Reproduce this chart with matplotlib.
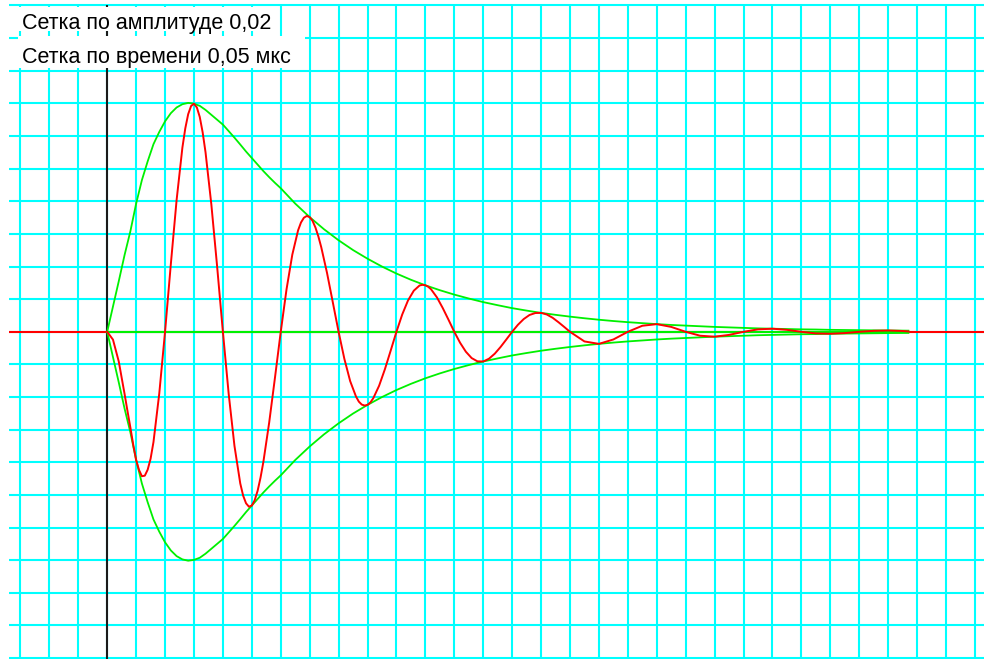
import numpy as np
import matplotlib
matplotlib.use("Agg")
import matplotlib.pyplot as plt
from matplotlib.patches import Rectangle

# ---- data ----
label_amp = "Сетка по амплитуде 0,02"
label_time = "Сетка по времени 0,05 мкс"
amp_step = 0.02      # amplitude per grid cell
time_step = 0.05     # microseconds per grid cell

# envelope (upper), time in microseconds
env_t = [0.00, 0.01, 0.02, 0.03, 0.04, 0.05, 0.06, 0.07, 0.08, 0.09,
         0.10, 0.11, 0.12, 0.13, 0.14, 0.15, 0.16, 0.17, 0.18, 0.19,
         0.20, 0.21, 0.22, 0.23, 0.24, 0.25, 0.26, 0.27, 0.28, 0.29,
         0.30, 0.325, 0.35, 0.375, 0.40, 0.425, 0.45, 0.475, 0.50, 0.525,
         0.55, 0.575, 0.60, 0.625, 0.65, 0.675, 0.70, 0.725, 0.75, 0.775,
         0.80, 0.825, 0.85, 0.875, 0.90, 0.925, 0.95, 0.975, 1.00, 1.025,
         1.05, 1.075, 1.10, 1.125, 1.15, 1.175, 1.20, 1.225, 1.25, 1.275,
         1.30, 1.325, 1.35, 1.385]
env_upper = [0.0, 0.0155, 0.031, 0.047, 0.0615, 0.0785, 0.093, 0.1045, 0.115, 0.1225,
             0.129, 0.134, 0.1375, 0.1395, 0.1403, 0.1398, 0.1385, 0.136, 0.133, 0.130,
             0.127, 0.123, 0.119, 0.1148, 0.1105, 0.1065, 0.1025, 0.0985, 0.0948, 0.0913,
             0.088, 0.0786, 0.0703, 0.0628, 0.0561, 0.0501, 0.0448, 0.0400, 0.0357, 0.0319,
             0.0285, 0.0255, 0.0228, 0.0204, 0.0182, 0.0163, 0.0145, 0.0130, 0.0116, 0.0104,
             0.0093, 0.0083, 0.0074, 0.0066, 0.0059, 0.0053, 0.0047, 0.0042, 0.0038, 0.0034,
             0.0030, 0.0027, 0.0024, 0.0021, 0.0019, 0.0017, 0.0015, 0.0014, 0.0012, 0.0011,
             0.0010, 0.0009, 0.0008, 0.0007]
env_lower = [-0.0, -0.0155, -0.031, -0.047, -0.0615, -0.0785, -0.093, -0.1045, -0.115, -0.1225,
             -0.129, -0.134, -0.1375, -0.1395, -0.1403, -0.1398, -0.1385, -0.136, -0.133, -0.130,
             -0.127, -0.123, -0.119, -0.1148, -0.1105, -0.1065, -0.1025, -0.0985, -0.0948, -0.0913,
             -0.088, -0.0786, -0.0703, -0.0628, -0.0561, -0.0501, -0.0448, -0.0400, -0.0357, -0.0319,
             -0.0285, -0.0255, -0.0228, -0.0204, -0.0182, -0.0163, -0.0145, -0.0130, -0.0116, -0.0104,
             -0.0093, -0.0083, -0.0074, -0.0066, -0.0059, -0.0053, -0.0047, -0.0042, -0.0038, -0.0034,
             -0.0030, -0.0027, -0.0024, -0.0021, -0.0019, -0.0017, -0.0015, -0.0014, -0.0012, -0.0011,
             -0.0010, -0.0009, -0.0008, -0.0007]

# signal (red), time in microseconds
sig_t = [0.00, 0.01, 0.02, 0.03, 0.035, 0.04, 0.045, 0.05, 0.055, 0.06, 0.065, 0.07, 0.075, 0.08, 0.09,
         0.10, 0.11, 0.12, 0.13, 0.135, 0.14, 0.145, 0.15, 0.155, 0.16, 0.165, 0.17, 0.18, 0.19,
         0.20, 0.21, 0.22, 0.23, 0.235, 0.24, 0.245, 0.25, 0.255, 0.26, 0.265, 0.27, 0.28, 0.29,
         0.30, 0.31, 0.32, 0.33, 0.335, 0.34, 0.345, 0.35, 0.355, 0.36, 0.365, 0.37, 0.38, 0.39,
         0.40, 0.41, 0.42, 0.43, 0.435, 0.44, 0.445, 0.45, 0.455, 0.46, 0.47, 0.48, 0.49,
         0.50, 0.51, 0.52, 0.53, 0.54, 0.545, 0.55, 0.555, 0.56, 0.57, 0.58, 0.59,
         0.60, 0.61, 0.62, 0.63, 0.64, 0.65, 0.66, 0.67, 0.68, 0.69,
         0.70, 0.71, 0.72, 0.73, 0.74, 0.75, 0.76, 0.77, 0.78, 0.79,
         0.80, 0.825, 0.85, 0.875, 0.90, 0.925, 0.95, 0.975, 1.00, 1.025,
         1.05, 1.075, 1.10, 1.125, 1.15, 1.175, 1.20, 1.225, 1.25, 1.275,
         1.30, 1.325, 1.35, 1.375, 1.385]
sig_v = [0.0, -0.0048, -0.0182, -0.0380, -0.0484, -0.0585, -0.0692, -0.0785, -0.0847, -0.0885, -0.0882, -0.0845, -0.0778, -0.0676, -0.0379,
         0.0, 0.0414, 0.0808, 0.1129, 0.1247, 0.1334, 0.1384, 0.1398, 0.1375, 0.1317, 0.1223, 0.1100, 0.0782, 0.0402,
         0.0, -0.0380, -0.0699, -0.0929, -0.1004, -0.1051, -0.1072, -0.1065, -0.1032, -0.0975, -0.0895, -0.0797, -0.0557, -0.0282,
         0.0, 0.0260, 0.0473, 0.0622, 0.0670, 0.0699, 0.0710, 0.0703, 0.0680, 0.0639, 0.0585, 0.0519, 0.0361, 0.0181,
         0.0, -0.0166, -0.0302, -0.0396, -0.0428, -0.0446, -0.0452, -0.0448, -0.0433, -0.0407, -0.0331, -0.0230, -0.0116,
         0.0, 0.0106, 0.0192, 0.0252, 0.0284, 0.0288, 0.0285, 0.0276, 0.0260, 0.0211, 0.0146, 0.0074,
         0.0, -0.0067, -0.0122, -0.0161, -0.0181, -0.0182, -0.0165, -0.0134, -0.0093, -0.0047,
         0.0, 0.0043, 0.0078, 0.0103, 0.0115, 0.0116, 0.0106, 0.0086, 0.0059, 0.0030,
         0.0, -0.0059, -0.0074, -0.0047, 0.0, 0.0037, 0.0047, 0.0030, 0.0, -0.0024,
         -0.0030, -0.0019, 0.0, 0.0015, 0.0019, 0.0012, 0.0, -0.0010, -0.0012, -0.0008,
         0.0, 0.0006, 0.0008, 0.0005, 0.0002]

# ---- figure ----
W, H = 984, 659
fig = plt.figure(figsize=(W / 100, H / 100), dpi=100)
ax = fig.add_axes([0, 0, 1, 1])
ax.axis("off")

x_left, x_right = -0.1853, 1.5157
y_bottom, y_top = -0.20055, 0.20337
ax.set_xlim(x_left, x_right)
ax.set_ylim(y_bottom, y_top)

cyan = "#00FFFF"
grid_times = np.arange(-3, 31) * time_step
grid_amps = np.arange(-10, 11) * amp_step
grid_x0 = -0.170
ax.hlines(grid_amps, grid_x0, x_right, colors=cyan, linewidth=1.5, zorder=1)
ax.vlines(grid_times, y_bottom, 10 * amp_step, colors=cyan, linewidth=1.5, zorder=1)

# black vertical axis at t = 0
ax.vlines([0.0], y_bottom, 10 * amp_step, colors="#1a1a1a", linewidth=1.5, zorder=2)
# red zero line
ax.hlines([0.0], grid_x0, x_right, colors="#FF0000", linewidth=1.5, zorder=3)
# green zero line and envelopes
ax.plot([env_t[0], env_t[-1]], [0.0, 0.0], color="#00F000", linewidth=1.5, zorder=4)
ax.plot(env_t, env_upper, color="#00F000", linewidth=1.3, zorder=4)
ax.plot(env_t, env_lower, color="#00F000", linewidth=1.3, zorder=4)
# signal
ax.plot(sig_t, sig_v, color="#FF0000", linewidth=1.4, zorder=5)

# label boxes (pixel coordinates, top-left origin)
def px_rect(x0, y0, x1, y1):
    return Rectangle((x0 / 100, (H - y1) / 100), (x1 - x0) / 100, (y1 - y0) / 100,
                     transform=fig.dpi_scale_trans, facecolor="white",
                     edgecolor="none", zorder=6)

fig.patches.append(px_rect(18, 7, 278, 31))
fig.patches.append(px_rect(18, 36, 305, 68))

font = ["Liberation Sans", "DejaVu Sans"]
fig.text(22 / W, (H - 29) / H, label_amp, fontsize=15.5,
         family=font, color="#000000", va="baseline", ha="left", zorder=7)
fig.text(22 / W, (H - 63) / H, label_time, fontsize=15.5,
         family=font, color="#000000", va="baseline", ha="left", zorder=7)

fig.savefig("out.png", dpi=100)
